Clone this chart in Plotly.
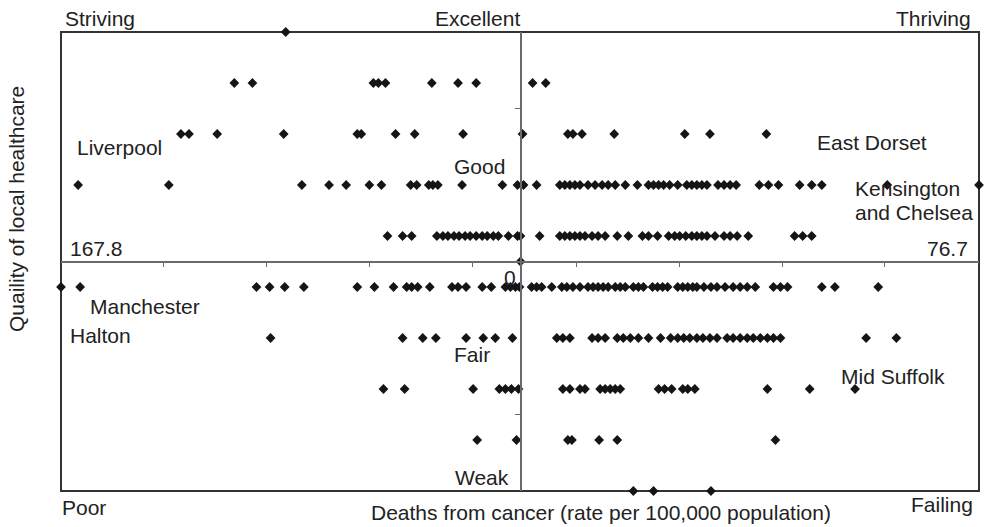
import plotly.graph_objects as go

# ---- data: cancer death rate (per 100,000) by healthcare-quality band ----
x_max = 167.8
x_min = 76.7
x_centre = 122.2

band_levels = [4.5, 3.5, 2.5, 1.5, 0.5, 0.0, -0.5, -1.5, -2.5, -3.5, -4.5]

rates_4_5 = [145.5]
rates_3_5 = [150.6, 148.8, 136.8, 136.3, 135.6, 131.0, 128.4, 126.6, 121.0, 119.7]
rates_2_5 = [155.9, 155.1, 152.3, 145.7, 138.4, 138.0, 134.6, 132.7, 127.9, 122.0,
             117.5, 117.0, 116.1, 112.9, 105.9, 103.4, 97.8]
rates_1_5 = [166.1, 157.1, 143.9, 141.2, 139.5, 137.2, 136.0, 133.1, 132.5, 131.3,
             130.9, 130.4, 128.0, 124.0, 122.5, 121.9, 120.6, 118.3, 117.8, 117.3,
             116.8, 116.3, 115.5, 114.8, 114.1, 113.5, 112.8, 111.8, 110.6, 109.5,
             109.0, 108.5, 108.0, 107.4, 106.6, 105.7, 105.2, 104.7, 104.2, 103.7,
             102.6, 102.0, 101.4, 100.8, 98.5, 97.6, 96.6, 94.5, 93.3, 92.3, 85.8, 76.7]
rates_0_5 = [135.4, 133.9, 133.0, 130.5, 129.9, 129.4, 128.8, 128.3, 127.7, 127.2,
             126.6, 126.0, 125.5, 124.9, 124.4, 123.4, 122.5, 122.2, 120.3, 118.3,
             117.8, 117.3, 116.8, 116.3, 115.8, 115.1, 114.5, 113.8, 112.6, 111.5,
             110.1, 109.5, 108.6, 107.5, 106.9, 106.4, 105.8, 105.2, 104.7, 104.2,
             103.7, 102.9, 102.0, 101.4, 100.7, 99.6, 95.0, 94.2, 93.3]
rates_0_0 = [122.2]
rates_m0_5 = [167.8, 165.9, 148.4, 147.1, 145.6, 143.7, 138.4, 136.7, 134.8, 133.5,
              133.0, 132.4, 131.2, 129.0, 128.4, 127.6, 126.0, 125.1, 123.7, 123.2,
              122.7, 122.3, 121.1, 120.6, 120.1, 119.1, 118.1, 117.6, 117.0, 116.3,
              115.5, 115.0, 114.5, 114.0, 113.5, 112.8, 112.3, 111.8, 111.0, 110.5,
              110.0, 109.1, 108.6, 108.1, 107.6, 106.6, 106.1, 105.6, 105.1, 104.7,
              104.0, 103.3, 102.7, 101.9, 101.1, 100.4, 99.7, 98.9, 97.1, 96.4,
              95.7, 92.3, 91.0, 86.7]
rates_m1_5 = [147.0, 133.9, 131.9, 130.6, 127.6, 125.9, 124.7, 123.0, 118.6, 118.0,
              117.3, 115.1, 114.5, 113.8, 112.6, 112.0, 111.3, 110.5, 109.5, 108.3,
              107.3, 106.6, 106.0, 105.4, 104.7, 104.1, 103.4, 102.7, 101.7, 101.1,
              100.4, 99.7, 99.1, 98.4, 97.7, 97.1, 96.4, 87.9, 84.9]
rates_m2_5 = [135.8, 133.7, 126.9, 124.3, 123.7, 123.1, 122.4, 118.0, 117.3, 116.3,
              115.8, 114.3, 113.8, 113.3, 112.8, 112.3, 108.5, 107.9, 107.2, 106.1,
              105.6, 104.9, 97.7, 93.5, 89.0]
rates_m3_5 = [126.5, 122.6, 117.5, 117.1, 114.4, 112.6, 96.9]
rates_m4_5 = [111.0, 109.0, 103.3]

band_rates = [rates_4_5, rates_3_5, rates_2_5, rates_1_5, rates_0_5, rates_0_0,
              rates_m0_5, rates_m1_5, rates_m2_5, rates_m3_5, rates_m4_5]

x_tick_values = [157.58, 147.36, 137.14, 126.92, 116.69, 106.47, 96.25, 86.03]
y_tick_values = [-3, 3]

xs, ys = [], []
for level, rates in zip(band_levels, band_rates):
    xs.extend(rates)
    ys.extend([level] * len(rates))

FONT = "Liberation Sans, Arial, Helvetica, sans-serif"
TXT = "#222222"

fig = go.Figure()
fig.add_trace(go.Scatter(
    x=xs, y=ys, mode="markers",
    marker=dict(symbol="diamond", size=7.5, color="#151515", line=dict(width=0)),
    cliponaxis=False, hoverinfo="x+y", showlegend=False,
))

y_axis_pos = (x_max - x_centre) / (x_max - x_min)

fig.update_layout(
    width=987, height=527,
    margin=dict(l=61, r=8, t=32, b=36),
    paper_bgcolor="white", plot_bgcolor="white",
    font=dict(family=FONT, size=21, color=TXT),
    showlegend=False,
    xaxis=dict(range=[x_max, x_min], autorange=False, anchor="free", position=0.5,
               showgrid=False, zeroline=False, showline=True, linecolor="#6a6a6a",
               linewidth=1.5, ticks="outside", ticklen=5, tickwidth=1.2,
               tickcolor="#6a6a6a", tickvals=x_tick_values, showticklabels=False),
    yaxis=dict(range=[-4.5, 4.5], autorange=False, anchor="free", position=y_axis_pos,
               showgrid=False, zeroline=False, showline=True, linecolor="#6a6a6a",
               linewidth=1.5, ticks="outside", ticklen=5, tickwidth=1.2,
               tickcolor="#6a6a6a", tickvals=y_tick_values, showticklabels=False),
)

fig.add_shape(type="rect", xref="paper", yref="paper", x0=0, y0=0, x1=1, y1=1,
              line=dict(color="#333333", width=2), layer="below")

labels = [
    ("Striving", 0.0022, 1.0305, "left", 0),
    ("Excellent", 0.4532, 1.0305, "center", 0),
    ("Thriving", 0.9935, 1.0305, "right", 0),
    ("Liverpool", 0.0153, 0.7473, "left", 0),
    ("Good", 0.4259, 0.7059, "left", 0),
    ("East Dorset", 0.8214, 0.7582, "left", 0),
    ("Kensington", 0.8627, 0.6601, "left", 0),
    ("and Chelsea", 0.8627, 0.6078, "left", 0),
    ("167.8", 0.0076, 0.5294, "left", 0),
    ("76.7", 0.9902, 0.5294, "right", 0),
    ("0", 0.4891, 0.4662, "center", 0),
    ("Manchester", 0.0294, 0.4009, "left", 0),
    ("Halton", 0.0076, 0.3377, "left", 0),
    ("Fair", 0.4259, 0.2963, "left", 0),
    ("Mid Suffolk", 0.8475, 0.2484, "left", 0),
    ("Weak", 0.4270, 0.0305, "left", 0),
    ("Poor", -0.0011, -0.0349, "left", 0),
    ("Failing", 0.9956, -0.0305, "right", 0),
    ("Deaths from cancer (rate per 100,000 population)", 0.5882, -0.0479, "center", 0),
    ("Quaility of local healthcare", -0.0479, 0.6144, "center", -90),
]
for text, xp, yp, xa, ang in labels:
    fig.add_annotation(text=text, x=xp, y=yp, xref="paper", yref="paper",
                       xanchor=xa, yanchor="middle", showarrow=False,
                       textangle=ang, font=dict(family=FONT, size=21, color=TXT))

# remove the default page margin so the 987x527 figure fills the window exactly
fig.write_html("out.html",
               config={"displayModeBar": False},
               post_script="document.body.style.margin='0';document.body.style.padding='0';")
